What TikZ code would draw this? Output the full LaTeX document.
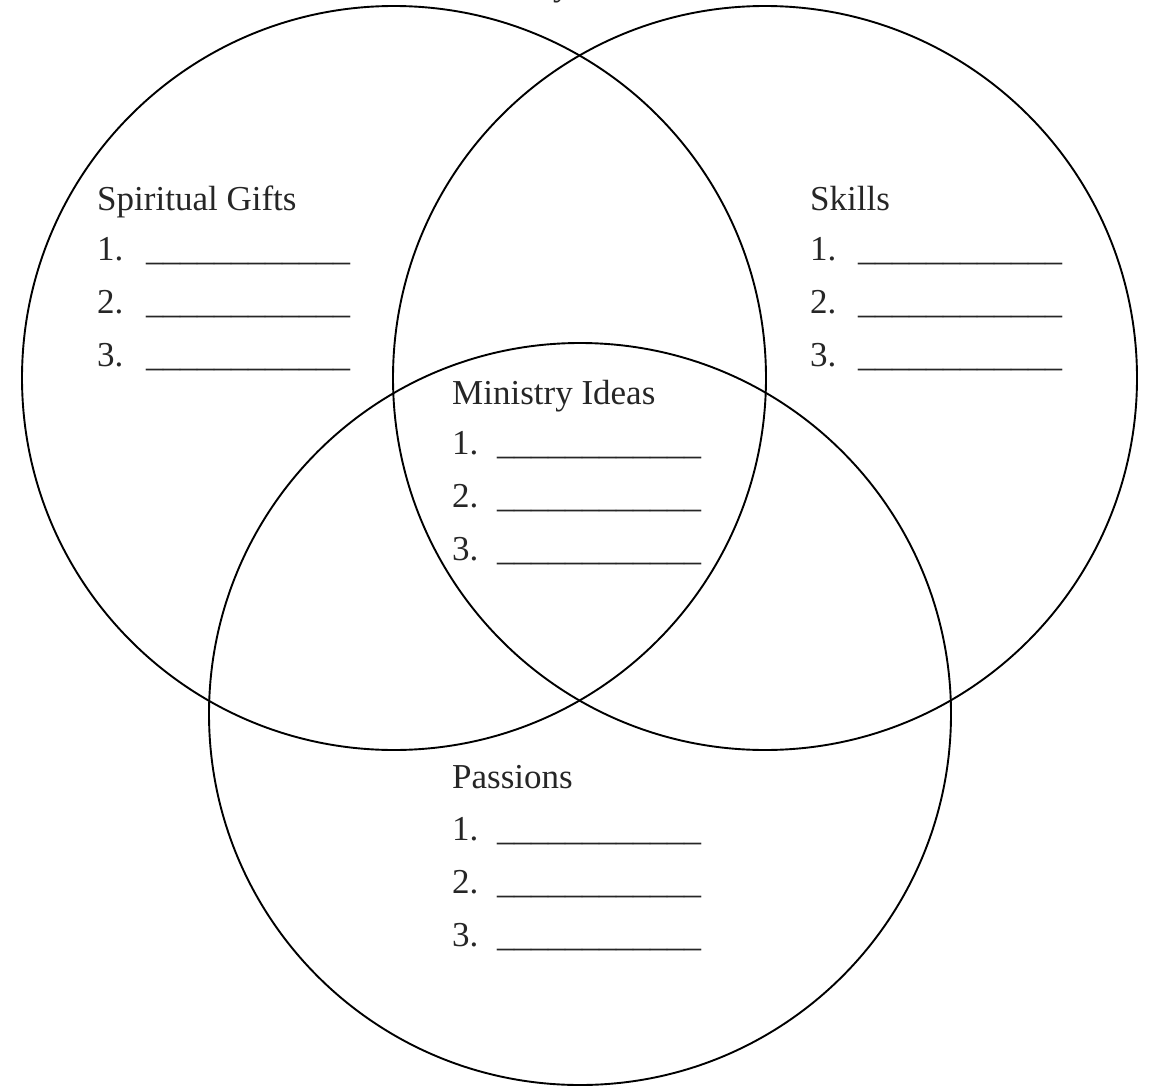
\documentclass[tikz,border=0pt]{standalone}
\usepackage{fontspec}
\setmainfont{Liberation Serif}
\begin{document}
\begin{tikzpicture}[x=1pt,y=-1pt,
  ring/.style={draw=black,line width=1.9pt},
  lbl/.style={anchor=base west,inner sep=0pt,font=\fontsize{35}{40}\selectfont,text=black!85},
  blank/.style={anchor=base west,inner sep=0pt,font=\fontsize{34}{40}\selectfont,text=black!85}]
\useasboundingbox (0,0) rectangle (1150,1086);
% circles
\draw[ring] (394,378) circle[radius=372];
\draw[ring] (765,378) circle[radius=372];
\draw[ring] (580,714) circle[radius=371];
% cropped title fragment
\node[lbl] (ttl) at (553,-4) {y};
% Spiritual Gifts
\node[lbl] (sg) at (97,210) {Spiritual Gifts};
\node[lbl] (sg1) at (97,260) {1.};
\node[lbl] (sg2) at (97,313) {2.};
\node[lbl] (sg3) at (97,366) {3.};
\node[blank] (sg1b) at (146,260) {\_\_\_\_\_\_\_\_\_\_\_\_};
\node[blank] (sg2b) at (146,313) {\_\_\_\_\_\_\_\_\_\_\_\_};
\node[blank] (sg3b) at (146,366) {\_\_\_\_\_\_\_\_\_\_\_\_};
% Skills
\node[lbl] (sk) at (810,210) {Skills};
\node[lbl] (sk1) at (810,260) {1.};
\node[lbl] (sk2) at (810,313) {2.};
\node[lbl] (sk3) at (810,366) {3.};
\node[blank] (sk1b) at (858,260) {\_\_\_\_\_\_\_\_\_\_\_\_};
\node[blank] (sk2b) at (858,313) {\_\_\_\_\_\_\_\_\_\_\_\_};
\node[blank] (sk3b) at (858,366) {\_\_\_\_\_\_\_\_\_\_\_\_};
% Ministry Ideas
\node[lbl] (mi) at (452,404) {Ministry Ideas};
\node[lbl] (mi1) at (452,454) {1.};
\node[lbl] (mi2) at (452,507) {2.};
\node[lbl] (mi3) at (452,560) {3.};
\node[blank] (mi1b) at (497,454) {\_\_\_\_\_\_\_\_\_\_\_\_};
\node[blank] (mi2b) at (497,507) {\_\_\_\_\_\_\_\_\_\_\_\_};
\node[blank] (mi3b) at (497,560) {\_\_\_\_\_\_\_\_\_\_\_\_};
% Passions
\node[lbl] (pa) at (452,788) {Passions};
\node[lbl] (pa1) at (452,840) {1.};
\node[lbl] (pa2) at (452,893) {2.};
\node[lbl] (pa3) at (452,946) {3.};
\node[blank] (pa1b) at (497,840) {\_\_\_\_\_\_\_\_\_\_\_\_};
\node[blank] (pa2b) at (497,893) {\_\_\_\_\_\_\_\_\_\_\_\_};
\node[blank] (pa3b) at (497,946) {\_\_\_\_\_\_\_\_\_\_\_\_};
\end{tikzpicture}
\end{document}
